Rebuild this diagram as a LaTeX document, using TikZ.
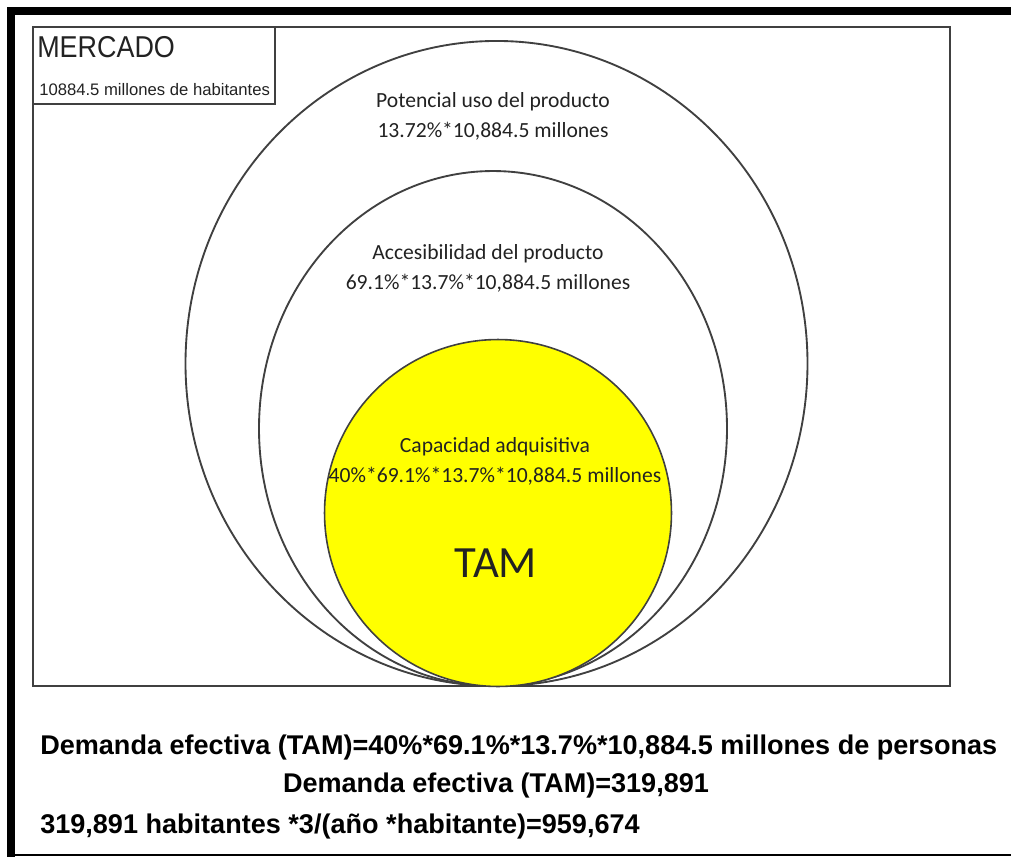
\documentclass[tikz,border=0pt]{standalone}
\usepackage{fontspec}
\setmainfont{Liberation Sans}
\newfontfamily\calfont{Carlito}
\definecolor{lin}{HTML}{404040}
\definecolor{txt}{HTML}{222222}
\definecolor{tamyel}{HTML}{FFFF00}
\begin{document}
\begin{tikzpicture}[x=0.75pt,y=-0.75pt,
  frame/.style={line width=6pt,black},
  boxline/.style={draw=lin,line width=1.4pt},
  ring/.style={draw=lin,line width=1.4pt},
  lab/.style={font=\calfont\fontsize{16.2pt}{22.5pt}\selectfont,text=txt,align=center,inner sep=0pt},
  bot/.style={font=\bfseries\fontsize{20.3pt}{24pt}\selectfont,text=black,inner sep=0pt}]
\useasboundingbox (0,0) rectangle (1011,857);
% outer frame
\coordinate (ftl) at (7,11);
\coordinate (ftr) at (1011,11);
\coordinate (fl1) at (11,7);
\coordinate (fl2) at (11,857);
\coordinate (fb1) at (7,855);
\coordinate (fb2) at (1011,855);
\draw[frame] (ftl) -- (ftr);
\draw[frame] (fl1) -- (fl2);
\draw[black,line width=1.5pt] (fb1) -- (fb2);
% market rectangle
\draw[boxline] (33,27) rectangle (950,686);
\draw[boxline] (33,27) rectangle (275,104);
% circles
\draw[ring] (496.5,363.5) ellipse [x radius=233.25pt, y radius=241.9pt];
\draw[ring] (493,428.5) ellipse [x radius=175.5pt, y radius=193.1pt];
\draw[draw=black!75,fill=tamyel,line width=1.2pt] (498,513) circle [radius=130.1pt];
% texts
\node[anchor=west,inner sep=0pt,text=txt,font=\fontsize{20.2pt}{22pt}\selectfont] (merc) at (37,47) {\scalebox{1}[1.12]{MERCADO}};
\node[anchor=west,inner sep=0pt,text=txt,font=\fontsize{12.5pt}{14pt}\selectfont] (hab) at (39,90) {10884.5 millones de habitantes};
\node[lab] (pot) at (493,116) {Potencial uso del producto\\13.72\%*10,884.5 millones};
\node[lab] (acc) at (488,268) {Accesibilidad del producto\\69.1\%*13.7\%*10,884.5 millones};
\node[lab] (cap) at (495,461) {Capacidad adquisitiva\\40\%*69.1\%*13.7\%*10,884.5 millones};
\node[inner sep=0pt,text=txt,font=\calfont\fontsize{33.5pt}{36pt}\selectfont] (tam) at (496,563) {TAM};
\node[bot,anchor=west] (l1) at (40,747) {Demanda efectiva (TAM)=40\%*69.1\%*13.7\%*10,884.5 millones de personas};
\node[bot] (l2) at (496,785) {Demanda efectiva (TAM)=319,891};
\node[bot,anchor=west] (l3) at (40,826) {319,891 habitantes *3/(año *habitante)=959,674};
\end{tikzpicture}
\end{document}
